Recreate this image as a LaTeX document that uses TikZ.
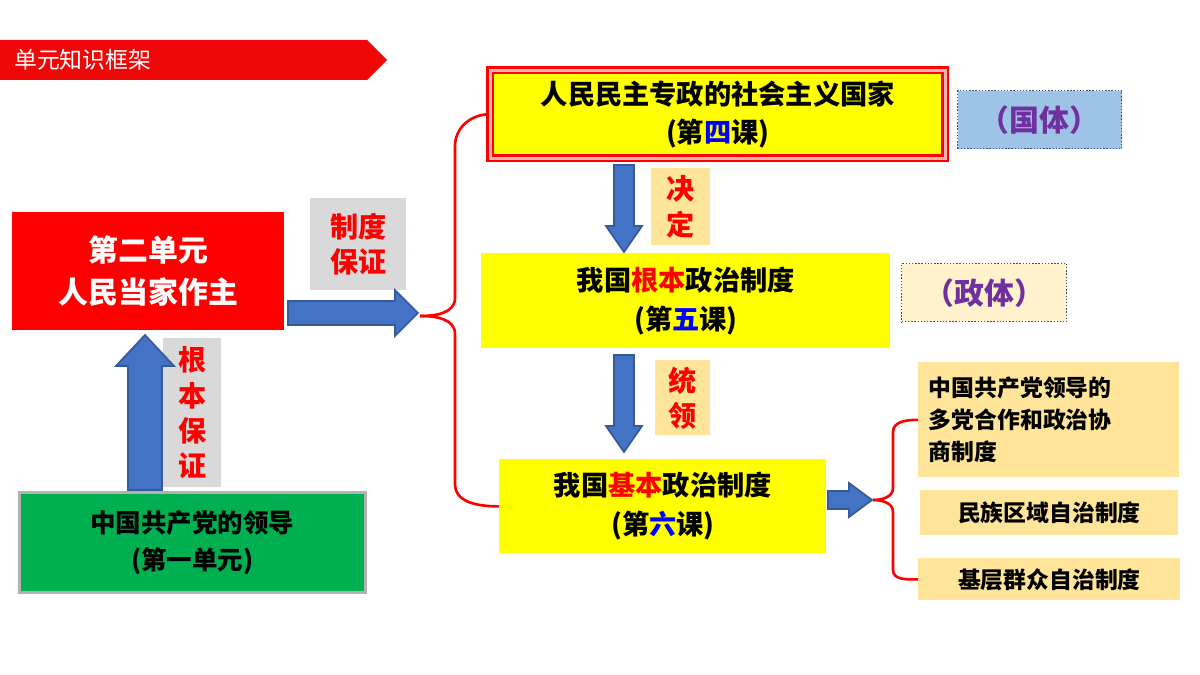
\documentclass[tikz,border=0pt]{standalone}
\usepackage{fontspec}
\setmainfont{Noto Sans CJK SC}
\usetikzlibrary{arrows.meta}
\definecolor{BannerRed}{RGB}{240,8,8}
\definecolor{BoxYellow}{RGB}{255,255,0}
\definecolor{ArrowBlue}{RGB}{68,114,196}
\definecolor{LabelGray}{RGB}{217,217,217}
\definecolor{LabelOrange}{RGB}{255,229,153}
\definecolor{CreamFill}{RGB}{255,242,204}
\definecolor{SkyFill}{RGB}{157,195,230}
\definecolor{TagPurple}{RGB}{112,48,160}
\definecolor{UnitGreen}{RGB}{0,176,80}
\tikzstyle{unitBox}=[anchor=north west, inner sep=0pt, align=center, font=\bfseries\fontsize{17}{24}\selectfont]
\tikzstyle{lessonBox}=[unitBox, fill=BoxYellow, font=\bfseries\fontsize{15.5}{22}\selectfont]
\tikzstyle{linkLabel}=[unitBox, text=red, font=\bfseries\fontsize{16}{20}\selectfont]
\tikzstyle{tagBox}=[unitBox, draw=ArrowBlue!70!black, densely dotted, thick, text=TagPurple, font=\bfseries\fontsize{17}{20}\selectfont]
\tikzstyle{subBox}=[unitBox, fill=LabelOrange, align=left, font=\bfseries\fontsize{13}{18}\selectfont]
\tikzstyle{bigArrow}=[draw=ArrowBlue!80!black, line width=1pt]
\tikzstyle{braceLine}=[red, line width=1.5pt]
\newcommand{\blockArrowRight}[5]{% x1,x2,y,half body,half head (head length 23)
  \filldraw[bigArrow, fill=ArrowBlue] (#1,#3-#4) -- (#2-23,#3-#4) -- (#2-23,#3-#5) -- (#2,#3) -- (#2-23,#3+#5) -- (#2-23,#3+#4) -- (#1,#3+#4) -- cycle;}
\begin{document}
\begin{tikzpicture}[x=0.02cm, y=-0.02cm]
  \useasboundingbox (0,0) rectangle (1200,675);

  % Banner
  \fill[BannerRed] (0,40) -- (367,40) -- (387,60) -- (367,80) -- (0,80) -- cycle;
  \node[anchor=west, text=white, font=\fontsize{13}{16}\selectfont] (banner) at (8,60) {单元知识框架};

  % Unit and party
  \node[unitBox, fill=red, text=white, minimum width=272*0.02cm, minimum height=118*0.02cm] (unit) at (12,212) {第二单元\\人民当家作主};
  \node[unitBox, fill=UnitGreen, draw=gray!60, line width=1.5pt, minimum width=346*0.02cm, minimum height=100*0.02cm, font=\bfseries\fontsize{14.5}{21}\selectfont] (party) at (18,491) {中国共产党的领导\\(第一单元)};
  \node[linkLabel, fill=LabelGray, minimum width=96*0.02cm, minimum height=92*0.02cm] (guarantee) at (310,198) {制度\\保证};
  \node[linkLabel, fill=LabelGray, minimum width=58*0.02cm, minimum height=149*0.02cm] (root) at (163,338) {根\\本\\保\\证};

  % Lessons
  \node[lessonBox, draw=red, double=red!30, double distance=1.5pt, line width=1.5pt, minimum width=455*0.02cm, minimum height=88*0.02cm] (state) at (489,69) {人民民主专政的社会主义国家\\(第\textcolor{blue}{四}课)};
  \node[lessonBox, minimum width=409*0.02cm, minimum height=95*0.02cm] (fundamental) at (481,253) {我国\textcolor{red}{根本}政治制度\\(第\textcolor{blue}{五}课)};
  \node[lessonBox, minimum width=327*0.02cm, minimum height=94*0.02cm] (basic) at (499,459) {我国\textcolor{red}{基本}政治制度\\(第\textcolor{blue}{六}课)};
  \node[tagBox, fill=SkyFill, minimum width=164*0.02cm, minimum height=58*0.02cm] (stateTag) at (957,90) {（国体）};
  \node[tagBox, fill=CreamFill, minimum width=165*0.02cm, minimum height=58*0.02cm] (govTag) at (901,263) {（政体）};
  \node[linkLabel, fill=LabelOrange, minimum width=59*0.02cm, minimum height=77*0.02cm] (decide) at (651,168) {决\\定};
  \node[linkLabel, fill=LabelOrange, minimum width=55*0.02cm, minimum height=75*0.02cm] (lead) at (655,360) {统\\领};

  % Basic systems
  \node[subBox, minimum width=260*0.02cm, minimum height=115*0.02cm, text width=240*0.02cm, inner sep=6pt] (cppcc) at (918,362) {中国共产党领导的\\多党合作和政治协\\商制度};
  \node[subBox, minimum width=258*0.02cm, minimum height=45*0.02cm, align=center] (ethnic) at (920,490) {民族区域自治制度};
  \node[subBox, minimum width=262*0.02cm, minimum height=42*0.02cm, align=center] (grassroots) at (918,558) {基层群众自治制度};

  % Arrows
  \blockArrowRight{288}{418}{313}{12}{23}
  \blockArrowRight{828}{872}{500}{9}{17}
  \filldraw[bigArrow, fill=ArrowBlue] (614,165) -- (634,165) -- (634,226) -- (642,226) -- (624,252) -- (606,226) -- (614,226) -- cycle;
  \filldraw[bigArrow, fill=ArrowBlue] (614,355) -- (634,355) -- (634,426) -- (642,426) -- (624,452) -- (606,426) -- (614,426) -- cycle;
  \filldraw[bigArrow, fill=ArrowBlue] (128,490) -- (162,490) -- (162,366) -- (174,366) -- (145,335) -- (116,366) -- (128,366) -- cycle;

  % Braces
  \draw[braceLine] (state.west) to[out=180,in=90] (455,146) -- (455,298) to[out=270,in=0] (420,316);
  \draw[braceLine] (420,316) to[out=0,in=90] (455,334) -- (455,484) to[out=270,in=180] (basic.west);
  \draw[braceLine] (cppcc.west) to[out=180,in=90] (893,432) -- (893,488) to[out=270,in=0] (873,500);
  \draw[braceLine] (873,500) to[out=0,in=90] (893,512) -- (893,570) to[out=270,in=180] (grassroots.west);
\end{tikzpicture}
\end{document}
